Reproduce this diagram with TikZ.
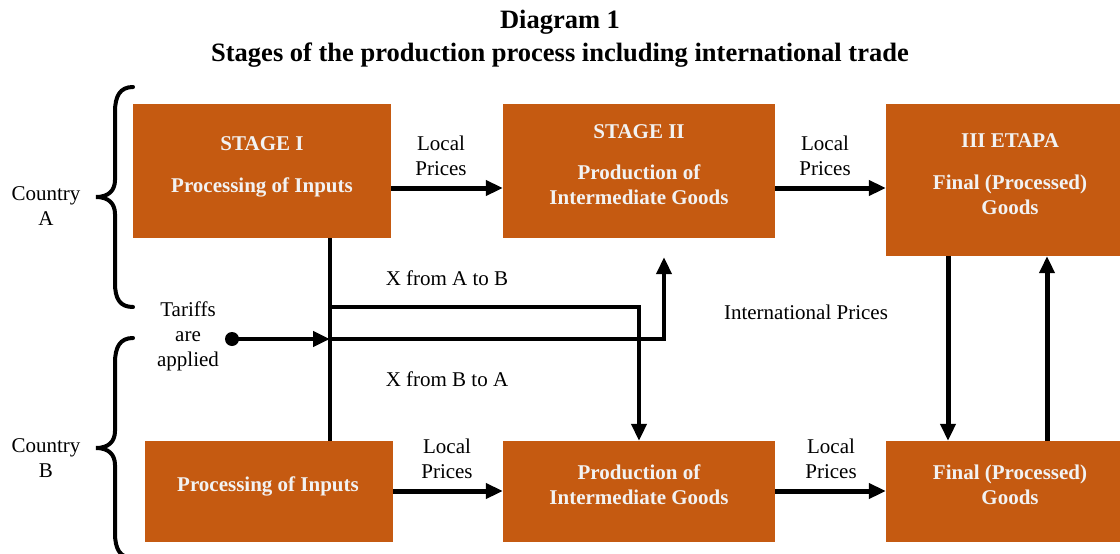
\documentclass[tikz,border=0pt]{standalone}
\usepackage{fontspec}
\setmainfont{Liberation Serif}
\usetikzlibrary{arrows.meta}
\definecolor{boxorange}{HTML}{C55A11}
\definecolor{boxtextcol}{HTML}{F2F2F2}
\tikzset{
  box/.style={draw=none, fill=boxorange, inner sep=0pt},
  boxtext/.style={text=boxtextcol, font=\fontsize{21}{25}\selectfont\bfseries, align=center, inner sep=0pt},
  lbl/.style={font=\fontsize{21}{25}\selectfont, align=center, inner sep=0pt},
  conn/.style={line width=5pt, -{Triangle[length=17pt,width=15pt]}},
  plainline/.style={line width=4.5pt},
  tradearrow/.style={line width=4.5pt, -{Triangle[length=17pt,width=15pt]}},
  bracestyle/.style={line width=4pt, line cap=round},
}
\begin{document}
\begin{tikzpicture}[x=1pt,y=-1pt]
\useasboundingbox (0,0) rectangle (1120,554);
\fill[white] (0,0) rectangle (1120,554);

% title
\node[font=\fontsize{26.5}{33}\selectfont\bfseries, align=center, inner sep=0pt] (title) at (560,38.5)
  {Diagram 1\\Stages of the production process including international trade};

% boxes
\node[box, minimum width=258pt, minimum height=134pt] (A1) at (262,171) {};
\node[box, minimum width=272pt, minimum height=134pt] (A2) at (639,171) {};
\node[box, minimum width=248pt, minimum height=152pt] (A3) at (1010,180) {};
\node[box, minimum width=248pt, minimum height=101pt] (B1) at (269,491.5) {};
\node[box, minimum width=272pt, minimum height=101pt] (B2) at (639,491.5) {};
\node[box, minimum width=248pt, minimum height=101pt] (B3) at (1010,491.5) {};

% box texts
\node[boxtext] (tA1) at (262,166.5) {STAGE I\\[17pt]Processing of Inputs};
\node[boxtext] (tA2) at (639,165) {STAGE II\\[16pt]Production of\\Intermediate Goods};
\node[boxtext] (tA3) at (1010,174) {III ETAPA\\[17pt]Final (Processed)\\Goods};
\node[boxtext] (tB1) at (268,486) {Processing of Inputs};
\node[boxtext] (tB2) at (639,484.5) {Production of\\Intermediate Goods};
\node[boxtext] (tB3) at (1010,484.5) {Final (Processed)\\Goods};

% labels
\node[lbl] (lp1) at (441,155.5) {Local\\Prices};
\node[lbl] (lp2) at (825,155.5) {Local\\Prices};
\node[lbl] (lp3) at (447,458.5) {Local\\Prices};
\node[lbl] (lp4) at (831,458.5) {Local\\Prices};
\node[lbl] (xab) at (447,278) {X from A to B};
\node[lbl] (xba) at (447,379) {X from B to A};
\node[lbl] (intl) at (806,312) {International Prices};
\node[lbl] (tariff) at (188,336) {Tariffs\\are\\applied};
\node[lbl] (cA) at (46,206.5) {Country\\A};
\node[lbl] (cB) at (46,458) {Country\\B};

% coordinates
\coordinate (vx) at (330,0);
\coordinate (j1) at (330,307);
\coordinate (j2) at (330,339);
\coordinate (k1) at (639,307);
\coordinate (k2) at (664,339);
\coordinate (xd) at (948,0);
\coordinate (xu) at (1047,0);
\fill (232,339) circle (7pt) coordinate (dot);

% horizontal local price arrows
\draw[conn] (A1.east |- 0,188) -- (A2.west |- 0,188);
\draw[conn] (A2.east |- 0,188) -- (A3.west |- 0,188);
\draw[conn] (B1.east |- 0,491) -- (B2.west |- 0,491);
\draw[conn] (B2.east |- 0,491) -- (B3.west |- 0,491);

% trade connectors
\draw[plainline] (A1.south -| vx) -- (B1.north -| vx);
\draw[tradearrow] (dot) -- (j2);
\draw[tradearrow, line join=miter] (j1) -- (k1) -- (B2.north -| k1);
\draw[tradearrow, line join=miter, shorten >=19pt] (j2) -- (k2) -- (A2.south -| k2);

% international price arrows
\draw[conn] (A3.south -| xd) -- (B3.north -| xd);
\draw[conn] (B3.north -| xu) -- (A3.south -| xu);

% braces
\draw[bracestyle] (133,87) .. controls (120,87) and (115,96) .. (115,112)
  -- (115,180) .. controls (115,191) and (108,197) .. (96,197)
  .. controls (108,197) and (115,203) .. (115,214)
  -- (115,283) .. controls (115,299) and (120,307) .. (133,307);
\draw[bracestyle] (133,338) .. controls (120,338) and (115,347) .. (115,363)
  -- (115,431) .. controls (115,442) and (108,448) .. (96,448)
  .. controls (108,448) and (115,454) .. (115,465)
  -- (115,533) .. controls (115,549) and (120,558) .. (133,558);
\end{tikzpicture}
\end{document}
